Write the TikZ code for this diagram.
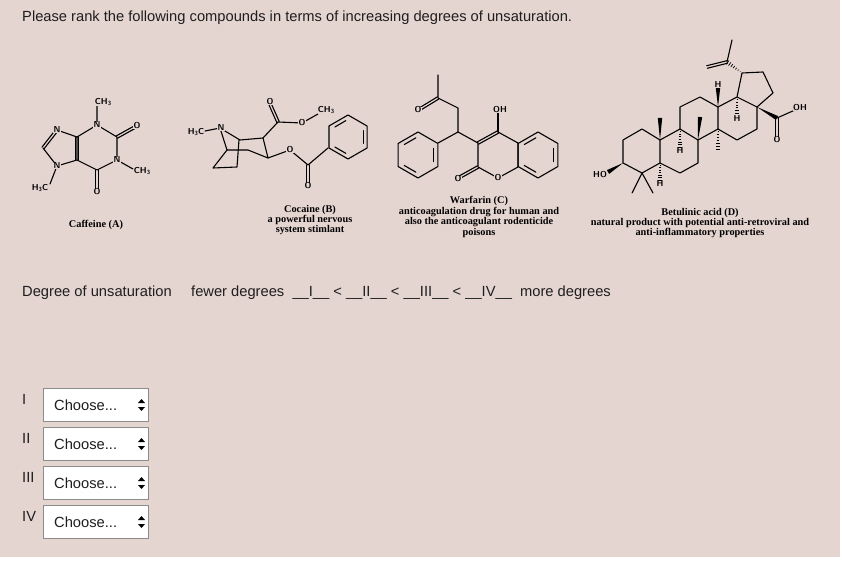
\documentclass[tikz,border=0pt]{standalone}
\usepackage{fontspec}
\setmainfont{Liberation Sans}
\newfontfamily\tms{Liberation Serif}
\usetikzlibrary{calc}
\definecolor{bg}{HTML}{E5D5D1}
\definecolor{txt}{HTML}{1E1E1E}
\tikzset{
  bond/.style={line width=1.1pt, line cap=round, line join=round},
  atom/.style={font=\sffamily\bfseries\fontsize{8.6}{8.6}\selectfont, fill=bg, inner sep=0.3pt},
  molcap/.style={font=\tms\bfseries\fontsize{10.3}{9}\selectfont, align=center, inner sep=0pt},
  ui/.style={font=\fontsize{14.7}{16}\selectfont, text=txt, anchor=west, inner sep=0pt},
  box/.style={draw=black!45, fill=white, line width=0.6pt},
}
\newcommand\subs[1]{\raisebox{-1.3pt}{\fontsize{6}{6}\selectfont #1}}
\newcommand\hexring[4]{\draw[bond] (#1,#2) +(30:#3) -- +(90:#3) -- +(150:#3) -- +(210:#3) -- +(270:#3) -- +(330:#3) -- cycle;
  \foreach \a in {#4} {\draw[bond,shorten >=2.5pt,shorten <=2.5pt] ($(#1,#2)+(\a:0.8*#3)$) -- ($(#1,#2)+(\a+60:0.8*#3)$);}}
\newcommand\wdg[2]{\fill ($(#1)$) -- ($(#2)!2.2pt!90:(#1)$) -- ($(#2)!2.2pt!-90:(#1)$) -- cycle;}
\newcommand\hsh[2]{\foreach \t in {0.12,0.26,0.4,0.54,0.68,0.82,0.96}{\path ($(#1)!\t!(#2)$) coordinate (hp);
  \draw[line width=0.7pt] ($(hp)!{\t*2.4pt}!90:(#1)$) -- ($(hp)!{\t*2.4pt}!-90:(#1)$);}}
\newcommand\dbl[2]{\draw[bond] ($(#1)!1.3pt!90:(#2)$) -- ($(#2)!1.3pt!-90:(#1)$); \draw[bond] ($(#1)!1.3pt!-90:(#2)$) -- ($(#2)!1.3pt!90:(#1)$);}
\begin{document}
\begin{tikzpicture}[x=1pt,y=-1pt]
\useasboundingbox (0,0) rectangle (842,561);
\fill[white] (0,0) rectangle (842,561);
\fill[bg] (0,0) rectangle (840,557);
\node[ui] (title) at (22,18) {Please rank the following compounds in terms of increasing degrees of unsaturation.};

% ---------- Caffeine ----------
\draw[bond] (97,125) -- (117,137) -- (117,160) -- (97,170) -- (77,160) -- (77,137) -- cycle;
\dbl{77,137}{77,160}
\draw[bond] (77,137) -- (57,130) (43,148) -- (57,166) -- (77,160);
\dbl{57,130}{43,148}
\draw[bond] (97,125) -- (97,106) (117,160) -- (133,169) (57,166) -- (50,184);
\dbl{117,137}{135,127}
\dbl{97,170}{97,189}
\node[atom] (caN1) at (97,125) {N};
\node[atom] (caN3) at (117,160) {N};
\node[atom] (caN7) at (57,130) {N};
\node[atom] (caN9) at (57,166) {N};
\node[atom] (caMe1) at (103,102) {CH\subs{3}};
\node[atom] (caO2) at (137,126) {O};
\node[atom] (caMe3) at (142,171) {CH\subs{3}};
\node[atom] (caO6) at (97,192) {O};
\node[atom] (caMe9) at (40,188) {H\subs{3}C};
\node[molcap] (capA) at (96,225) {Caffeine (A)};

% ---------- Cocaine ----------
\draw[bond] (205,131) -- (220,128) -- (240,140) -- (263,138) -- (268,158) -- (248,150) -- (227,150) -- (220,128);
\draw[bond] (227,150) -- (213,168) -- (237,167) -- (239,140);
\draw[bond] (263,138) -- (278,122) -- (302,123) -- (318,114);
\dbl{278,122}{270,104}
\draw[bond] (268,158) -- (290,150) -- (308,165) -- (328,148);
\dbl{308,165}{308,183}
\hexring{348}{137}{22}{-30,90,210}
\node[atom] (coMe) at (196,132) {H\subs{3}C};
\node[atom] (coN) at (221,128) {N};
\node[atom] (coO1) at (270,102) {O};
\node[atom] (coO2) at (302,123) {O};
\node[atom] (coMe2) at (326,110) {CH\subs{3}};
\node[atom] (coO3) at (290,150) {O};
\node[atom] (coO4) at (308,186) {O};
\node[molcap] (capB) at (310,220) {Cocaine (B)\\a powerful nervous\\system stimlant};

% ---------- Warfarin ----------
\hexring{418}{155}{23}{-30,90,210}
\draw[bond] (438,143) -- (458,132) -- (458,108) -- (438,98) -- (438,75);
\dbl{438,98}{420,109}
\draw[bond] (458,132) -- (478,143);
\draw[bond] (498,132) -- (518,143) -- (518,167) -- (498,178) -- (478,167) -- (478,143);
\dbl{478,143}{498,132}
\draw[bond] (498,132) -- (498,112);
\dbl{478,167}{460,177}
\hexring{538}{155}{23}{-30,90,210}
\node[atom] (waO1) at (418,110) {O};
\node[atom] (waOH) at (500,110) {OH};
\node[atom] (waO2) at (498,178) {O};
\node[atom] (waO3) at (458,179) {O};
\node[molcap] (capC) at (479,217) {Warfarin (C)\\anticoagulation drug for human and\\also the anticoagulant rodenticide\\poisons};

% ---------- Betulinic acid ----------
\draw[bond] (623,140) -- (642,129) -- (660,140) -- (660,163) -- (642,173) -- (623,163) -- cycle;
\draw[bond] (660,140) -- (680,129) -- (698,140) -- (698,163) -- (680,173) -- (660,163);
\draw[bond] (680,129) -- (680,107) -- (700,97) -- (718,107) -- (718,129) -- (698,140);
\draw[bond] (718,107) -- (737,97) -- (757,107) -- (757,129) -- (737,140) -- (718,129);
\draw[bond] (737,97) -- (742,73) -- (763,72) -- (773,93) -- (757,107);
\draw[bond] (642,173) -- (632,193) (642,173) -- (653,193);
\wdg{660,140}{660,118}
\wdg{698,140}{700,117}
\wdg{718,107}{718,88}
\wdg{623,163}{608,172}
\wdg{757,107}{777,118}
\hsh{660,163}{660,181}
\hsh{680,129}{680,148}
\hsh{718,129}{718,150}
\hsh{737,97}{737,117}
\hsh{742,73}{727,62}
\dbl{727,62}{707,67}
\draw[bond] (727,62) -- (732,40);
\draw[bond] (777,118) -- (795,110);
\dbl{777,118}{777,137}
\node[atom] (beHO) at (600,175) {HO};
\node[atom] (beH1) at (660,184) {H};
\node[atom] (beH2) at (680,151) {H};
\node[atom] (beH3) at (718,85) {H};
\node[atom] (beH4) at (737,119) {H};
\node[atom] (beOH) at (800,108) {OH};
\node[atom] (beO) at (777,140) {O};
\node[molcap] (capD) at (700,223) {Betulinic acid (D)\\natural product with potential anti-retroviral and\\anti-inflammatory properties};

% ---------- ranking line ----------
\node[ui] (deg) at (22,293) {Degree of unsaturation};
\node[ui] (rank) at (191,293) {fewer degrees\ \ \_\_I\_\_ < \_\_II\_\_ < \_\_III\_\_ < \_\_IV\_\_\ \ more degrees};

% ---------- choosers ----------
\foreach \r/\lab/\y in {1/I/388,2/II/427,3/III/466,4/IV/505}{
  \node[ui,anchor=north west] (rl\r) at (22,\y+6) {\lab};
  \draw[box] (43,\y) rectangle (148,\y+33);
  \node[ui] (ch\r) at (54,\y+17) {Choose...};
  \fill (138,\y+15) -- (145,\y+15) -- (141.5,\y+11) -- cycle;
  \fill (138,\y+19) -- (145,\y+19) -- (141.5,\y+23) -- cycle;
}
\end{tikzpicture}
\end{document}
